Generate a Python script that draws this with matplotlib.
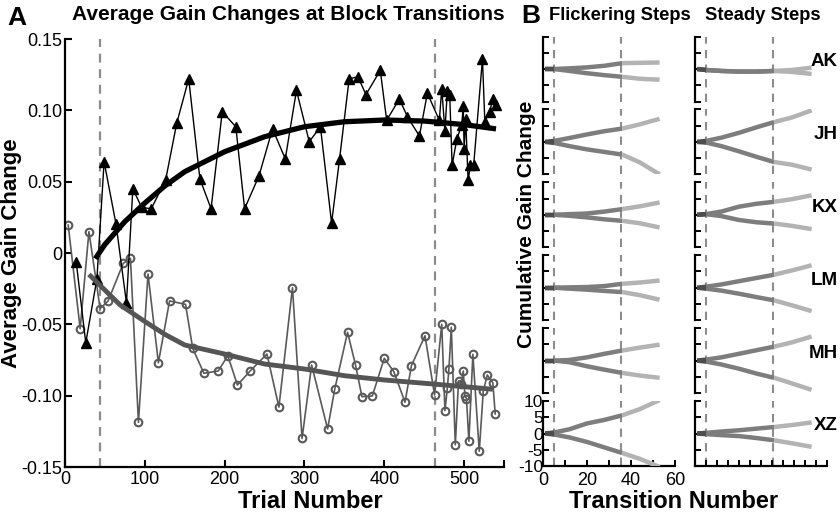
import matplotlib
matplotlib.use("Agg")
import matplotlib.pyplot as plt
import numpy as np

plt.rcParams['font.family'] = ['Liberation Sans', 'DejaVu Sans']

# ---------------- Panel A data ----------------
tri_t = [14, 26, 40, 49, 64, 77, 85, 96, 108, 126, 140, 155, 169, 183, 197, 214, 225, 243, 260,
         276, 290, 306, 320, 334, 344, 356, 367, 377, 395, 403, 419, 429, 444, 454, 469, 472, 476,
         479, 482, 485, 491, 497, 499, 500, 502, 505, 508, 512, 523, 526, 532, 536, 540]
tri_v = [-0.006, -0.063, -0.018, 0.064, 0.020, -0.035, 0.045, 0.032, 0.031, 0.051, 0.091, 0.122,
         0.052, 0.031, 0.099, 0.0885, 0.031, 0.054, 0.087, 0.066, 0.114, 0.078, 0.0885, 0.021,
         0.066, 0.122, 0.1236, 0.111, 0.128, 0.093, 0.108, 0.0955, 0.082, 0.112, 0.093, 0.115,
         0.0857, 0.1135, 0.1107, 0.0617, 0.080, 0.0897, 0.103, 0.073, 0.094, 0.051, 0.0617,
         0.0617, 0.136, 0.092, 0.099, 0.108, 0.104]

circ_t = [4, 19, 30, 44, 54, 73, 82, 92, 104, 117, 131, 151, 160, 174, 192, 204, 216, 232, 253,
          268, 285, 297, 309, 329, 338, 354, 364, 372, 385, 400, 412, 426, 434, 451, 463, 472, 476,
          479, 481, 484, 489, 493, 496, 499, 501, 503, 506, 511, 519, 524, 529, 536, 539]
circ_v = [0.0196, -0.053, 0.015, -0.039, -0.0336, -0.0072, -0.0037, -0.1187, -0.0147, -0.0769,
          -0.0336, -0.036, -0.0668, -0.0843, -0.0827, -0.072, -0.0925, -0.0827, -0.0708, -0.108,
          -0.0243, -0.130, -0.0785, -0.1233, -0.0953, -0.0556, -0.0785, -0.1007, -0.1002, -0.0738,
          -0.0832, -0.1046, -0.079, -0.058, -0.0995, -0.050, -0.1105, -0.0948, -0.0813, -0.052,
          -0.1345, -0.0897, -0.092, -0.0827, -0.100, -0.102, -0.132, -0.071, -0.139, -0.097,
          -0.0855, -0.0909, -0.1128]

fit_up_t = [38, 50, 75, 100, 125, 150, 200, 250, 300, 350, 400, 450, 500, 540]
fit_up_v = [-0.004, 0.006, 0.022, 0.035, 0.047, 0.057, 0.071, 0.0815, 0.0885, 0.092, 0.0932,
            0.0925, 0.090, 0.087]
fit_dn_t = [30, 50, 69, 100, 125, 150, 200, 250, 300, 350, 400, 450, 500, 536]
fit_dn_v = [-0.015, -0.026, -0.0364, -0.048, -0.057, -0.0645, -0.0708, -0.0778, -0.0813, -0.086,
            -0.089, -0.0913, -0.0937, -0.0955]

block_lines_A = [44, 464]
yticks_A = [-0.15, -0.10, -0.05, 0, 0.05, 0.10, 0.15]
ylabels_A = ['-0.15', '-0.10', '-0.05', '0', '0.05', '0.10', '0.15']
xticks_A = [0, 100, 200, 300, 400, 500]

# ---------------- Panel B data ----------------
subjects = ['AK', 'JH', 'KX', 'LM', 'MH', 'XZ']
trans_x = [1, 5, 12, 20, 28, 36, 44, 53]
flick_up = {
    'AK': [0, 0, 0.2, 0.5, 1.0, 1.8, 1.9, 2.0],
    'JH': [0, 0.3, 1.2, 2.3, 3.3, 4.1, 5.4, 7.1],
    'KX': [0, 0, 0.2, 0.4, 1.0, 1.75, 2.6, 3.8],
    'LM': [0, 0, 0.1, 0.2, 0.5, 1.2, 1.6, 2.2],
    'MH': [0, 0, 0.2, 1.0, 2.1, 3.1, 4.0, 4.9],
    'XZ': [0, 0.3, 1.3, 3.1, 4.2, 5.6, 7.5, 10.3],
}
flick_dn = {
    'AK': [0, 0, -0.6, -1.3, -1.9, -2.4, -3.0, -3.3],
    'JH': [0, -0.3, -1.3, -2.3, -3.1, -3.9, -6.3, -10.0],
    'KX': [0, 0, -0.3, -0.8, -1.4, -1.85, -2.6, -3.9],
    'LM': [0, 0, -0.3, -0.6, -1.0, -1.35, -2.3, -3.7],
    'MH': [0, 0, -0.5, -1.75, -2.8, -3.8, -4.6, -5.3],
    'XZ': [0, -0.3, -1.2, -2.6, -4.3, -6.0, -7.8, -10.3],
}
steady_up = {
    'AK': [0, -0.3, -0.6, -0.8, -0.8, -0.6, -0.3, 0.4],
    'JH': [0, 0.3, 1.3, 2.8, 4.5, 6.1, 7.5, 9.7],
    'KX': [0, 0.2, 1.0, 2.5, 3.4, 4.0, 4.8, 6.0],
    'LM': [0, 0.3, 1.0, 2.0, 3.0, 4.0, 5.3, 6.9],
    'MH': [0, 0.3, 1.0, 2.1, 3.2, 4.3, 5.6, 7.4],
    'XZ': [0, 0.2, 0.6, 1.0, 1.5, 2.0, 2.6, 3.4],
}
steady_dn = {
    'AK': [0, -0.3, -0.6, -0.8, -0.8, -0.6, -0.9, -1.5],
    'JH': [0, -0.2, -1.3, -2.9, -4.6, -6.2, -7.0, -8.5],
    'KX': [0, 0.2, -0.4, -1.6, -2.3, -2.7, -3.4, -4.4],
    'LM': [0, -0.3, -0.9, -1.85, -2.9, -3.9, -5.4, -7.2],
    'MH': [0, -0.3, -1.2, -2.5, -4.0, -5.3, -7.0, -9.0],
    'XZ': [0, -0.2, -0.5, -0.8, -1.4, -2.1, -3.0, -4.1],
}
block_lines_B = [5, 35.5]

W, H = 840, 512
fig = plt.figure(figsize=(W / 100, H / 100), dpi=100)


def rect(x0, y0, x1, y1):
    return [x0 / W, 1 - y1 / H, (x1 - x0) / W, (y1 - y0) / H]


# ---------------- Panel A ----------------
ax = fig.add_axes(rect(65, 39, 504, 467))
ax.set_xlim(0, 550)
ax.set_ylim(-0.15, 0.15)
for xv in block_lines_A:
    ax.axvline(xv, color='#8c8c8c', lw=1.6, ls=(0, (4, 3)), zorder=1)
ax.plot(circ_t, circ_v, color='#5a5a5a', lw=1.2, marker='o', ms=5.5, mfc='none',
        mec='#5a5a5a', mew=1.5, zorder=2)
ax.plot(tri_t, tri_v, color='black', lw=1.0, marker='^', ms=7.5, mfc='black', mec='black', zorder=3)
ax.plot(fit_dn_t, fit_dn_v, color='#555555', lw=3.5, solid_capstyle='butt', zorder=4)
ax.plot(fit_up_t, fit_up_v, color='black', lw=3.8, solid_capstyle='butt', zorder=5)
ax.set_yticks(yticks_A)
ax.set_yticklabels(ylabels_A)
ax.set_xticks(xticks_A + [550])
ax.set_xticklabels([str(v) for v in xticks_A] + [''])
for s in ['top', 'right']:
    ax.spines[s].set_visible(False)
for s in ['left', 'bottom']:
    ax.spines[s].set_linewidth(1.6)
ax.tick_params(direction='in', length=5, width=1.5, labelsize=13, pad=2)
ax.tick_params(axis='x', pad=3)

fig.text(7 / W, 1 - 18 / H, 'A', fontsize=19, fontweight='bold', va='center', ha='left')
fig.text(288 / W, 1 - 15 / H, 'Average Gain Changes at Block Transitions', fontsize=15,
         fontweight='bold', va='center', ha='center')
fig.text(310 / W, 1 - 508 / H, 'Trial Number', fontsize=17, fontweight='bold', va='baseline',
         ha='center')
fig.text(12 / W, 1 - 253 / H, 'Average Gain Change', fontsize=16, fontweight='bold',
         va='center', ha='center', rotation=90)

# ---------------- Panel B ----------------
cols = [(543, flick_up, flick_dn), (695, steady_up, steady_dn)]
c_dark, c_mid, c_light = '#4d4d4d', '#7d7d7d', '#b3b3b3'
for ci, (x0, ups, dns) in enumerate(cols):
    for ri, subj in enumerate(subjects):
        top = 36.5 + 72.9 * ri
        bax = fig.add_axes(rect(x0, top, x0 + 132, top + 65))
        bax.set_xlim(0, 60)
        bax.set_ylim(-10, 10)
        for xv in block_lines_B:
            bax.axvline(xv, color='#8c8c8c', lw=1.5, ls=(0, (4, 3)), zorder=1)
        xs = np.array(trans_x, dtype=float)
        for series in (ups[subj], dns[subj]):
            ys = np.array(series, dtype=float)
            m1 = xs <= 5
            m2 = (xs >= 5) & (xs <= 36)
            m3 = xs >= 36
            bax.plot(xs[m2], ys[m2], color=c_mid, lw=3.2, zorder=3, solid_capstyle='butt')
            bax.plot(xs[m3], ys[m3], color=c_light, lw=3.2, zorder=3, solid_capstyle='butt')
            bax.plot(xs[m1], ys[m1], color=c_dark, lw=3.2, zorder=4, solid_capstyle='butt')
        for s in ['top', 'right']:
            bax.spines[s].set_visible(False)
        bax.spines['left'].set_linewidth(1.6)
        bax.set_yticks([-10, -5, 0, 5, 10])
        last = ri == len(subjects) - 1
        if last:
            bax.spines['bottom'].set_linewidth(1.6)
            if ci == 0:
                bax.set_xticks([0, 10, 20, 30, 40, 50, 60])
                bax.set_xticklabels(['0', '', '20', '', '40', '', '60'])
                bax.set_yticklabels(['-10', '-5', '0', '5', '10'])
            else:
                bax.set_xticks(list(range(0, 61, 5)))
                bax.set_xticklabels([])
                bax.set_yticklabels([])
        else:
            bax.spines['bottom'].set_visible(False)
            bax.set_xticks([])
            bax.set_yticklabels([])
        bax.tick_params(direction='in', length=4, width=1.4, labelsize=13, pad=1)
        bax.tick_params(axis='y', pad=0, labelsize=12.5)
        bax.tick_params(axis='x', pad=4)
        if last and ci == 0:
            for lab in bax.get_yticklabels():
                lab.set_verticalalignment('center_baseline')
        if ci == 1:
            fig.text(838 / W, 1 - (top + 25) / H, subj, fontsize=13.5, fontweight='bold',
                     ha='right', va='center')

fig.text(521 / W, 1 - 16 / H, 'B', fontsize=19, fontweight='bold', va='center', ha='left')
fig.text(620 / W, 1 - 15 / H, 'Flickering Steps', fontsize=13.2, fontweight='bold',
         va='center', ha='center')
fig.text(763 / W, 1 - 15 / H, 'Steady Steps', fontsize=13.2, fontweight='bold',
         va='center', ha='center')
fig.text(674 / W, 1 - 508 / H, 'Transition Number', fontsize=17, fontweight='bold',
         va='baseline', ha='center')
fig.text(527 / W, 1 - 224 / H, 'Cumulative Gain Change', fontsize=15, fontweight='bold',
         va='center', ha='center', rotation=90)

fig.savefig('out.png', dpi=100)
